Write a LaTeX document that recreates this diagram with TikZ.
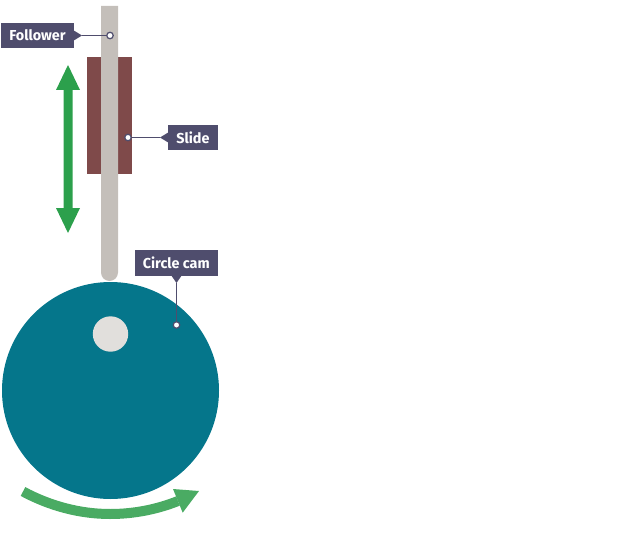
\documentclass[tikz,border=0pt]{standalone}
\usepackage{fontspec}
\setmainfont{Fira Sans}
\definecolor{lab}{HTML}{4F4D6D}
\definecolor{slidec}{HTML}{7F4A4A}
\definecolor{foll}{HTML}{C4BFBA}
\definecolor{cam}{HTML}{05768B}
\definecolor{hole}{HTML}{E1DFDC}
\definecolor{gup}{HTML}{2CA04C}
\definecolor{garc}{HTML}{4AAB63}
\tikzset{
 labelbox/.style={fill=lab,draw=none,text=white,font=\fontsize{14.4pt}{16pt}\selectfont\bfseries,inner sep=0pt,anchor=center},
 leader/.style={draw=lab,line width=1.2pt},
 pin/.style={circle,fill=white,draw=lab,line width=1.2pt,minimum size=6.5pt,inner sep=0pt},
}
\begin{document}
\begin{tikzpicture}[x=1pt,y=-1pt]
\useasboundingbox (0,0) rectangle (624,543);
% slide
\fill[slidec] (87,57) rectangle (132,174);
% follower
\fill[foll] (101,6) -- (118,6) -- (118,272.5) arc[start angle=0,end angle=-180,x radius=8.5,y radius=-8.5] -- cycle;
% cam
\fill[cam] (110.5,390.5) circle[radius=108.5];
\fill[hole] (110.5,334) circle[radius=17.7];
% double arrow
\fill[gup] (68,65) -- (80,90) -- (72.5,90) -- (72.5,208) -- (80,208) -- (68,233) -- (56,208) -- (63.5,208) -- (63.5,90) -- (56,90) -- cycle;
% rotation arrow
\draw[garc,line width=10pt] (23,491.5) .. controls (50,506) and (80,514) .. (110,514) .. controls (135,514) and (158,509) .. (178,501);
\fill[garc] (199,491) -- (173,489) -- (182.7,512.7) -- cycle;
% labels
\node[labelbox,minimum width=73pt,minimum height=25pt] (fbox) at (37.5,35.5) {Follower};
\fill[lab] (73,30) -- (82,35.5) -- (73,41) -- cycle;
\coordinate (ftip) at (82,35.5);
\node[pin] (fpin) at (110,35.5) {};
\draw[leader] (ftip) -- (fpin);
\node[labelbox,minimum width=50pt,minimum height=25pt] (sbox) at (193,137.5) {Slide};
\fill[lab] (169,132) -- (160,137.5) -- (169,143) -- cycle;
\coordinate (stip) at (160,137.5);
\node[pin] (spin) at (128,137.5) {};
\draw[leader] (stip) -- (spin);
\node[labelbox,minimum width=83.5pt,minimum height=26pt] (cbox) at (176.3,263) {Circle cam};
\fill[lab] (171,275) -- (176.5,283) -- (182,275) -- cycle;
\coordinate (ctip) at (176.5,283);
\node[pin] (cpin) at (176.5,325) {};
\draw[leader] (ctip) -- (cpin);
\end{tikzpicture}
\end{document}
